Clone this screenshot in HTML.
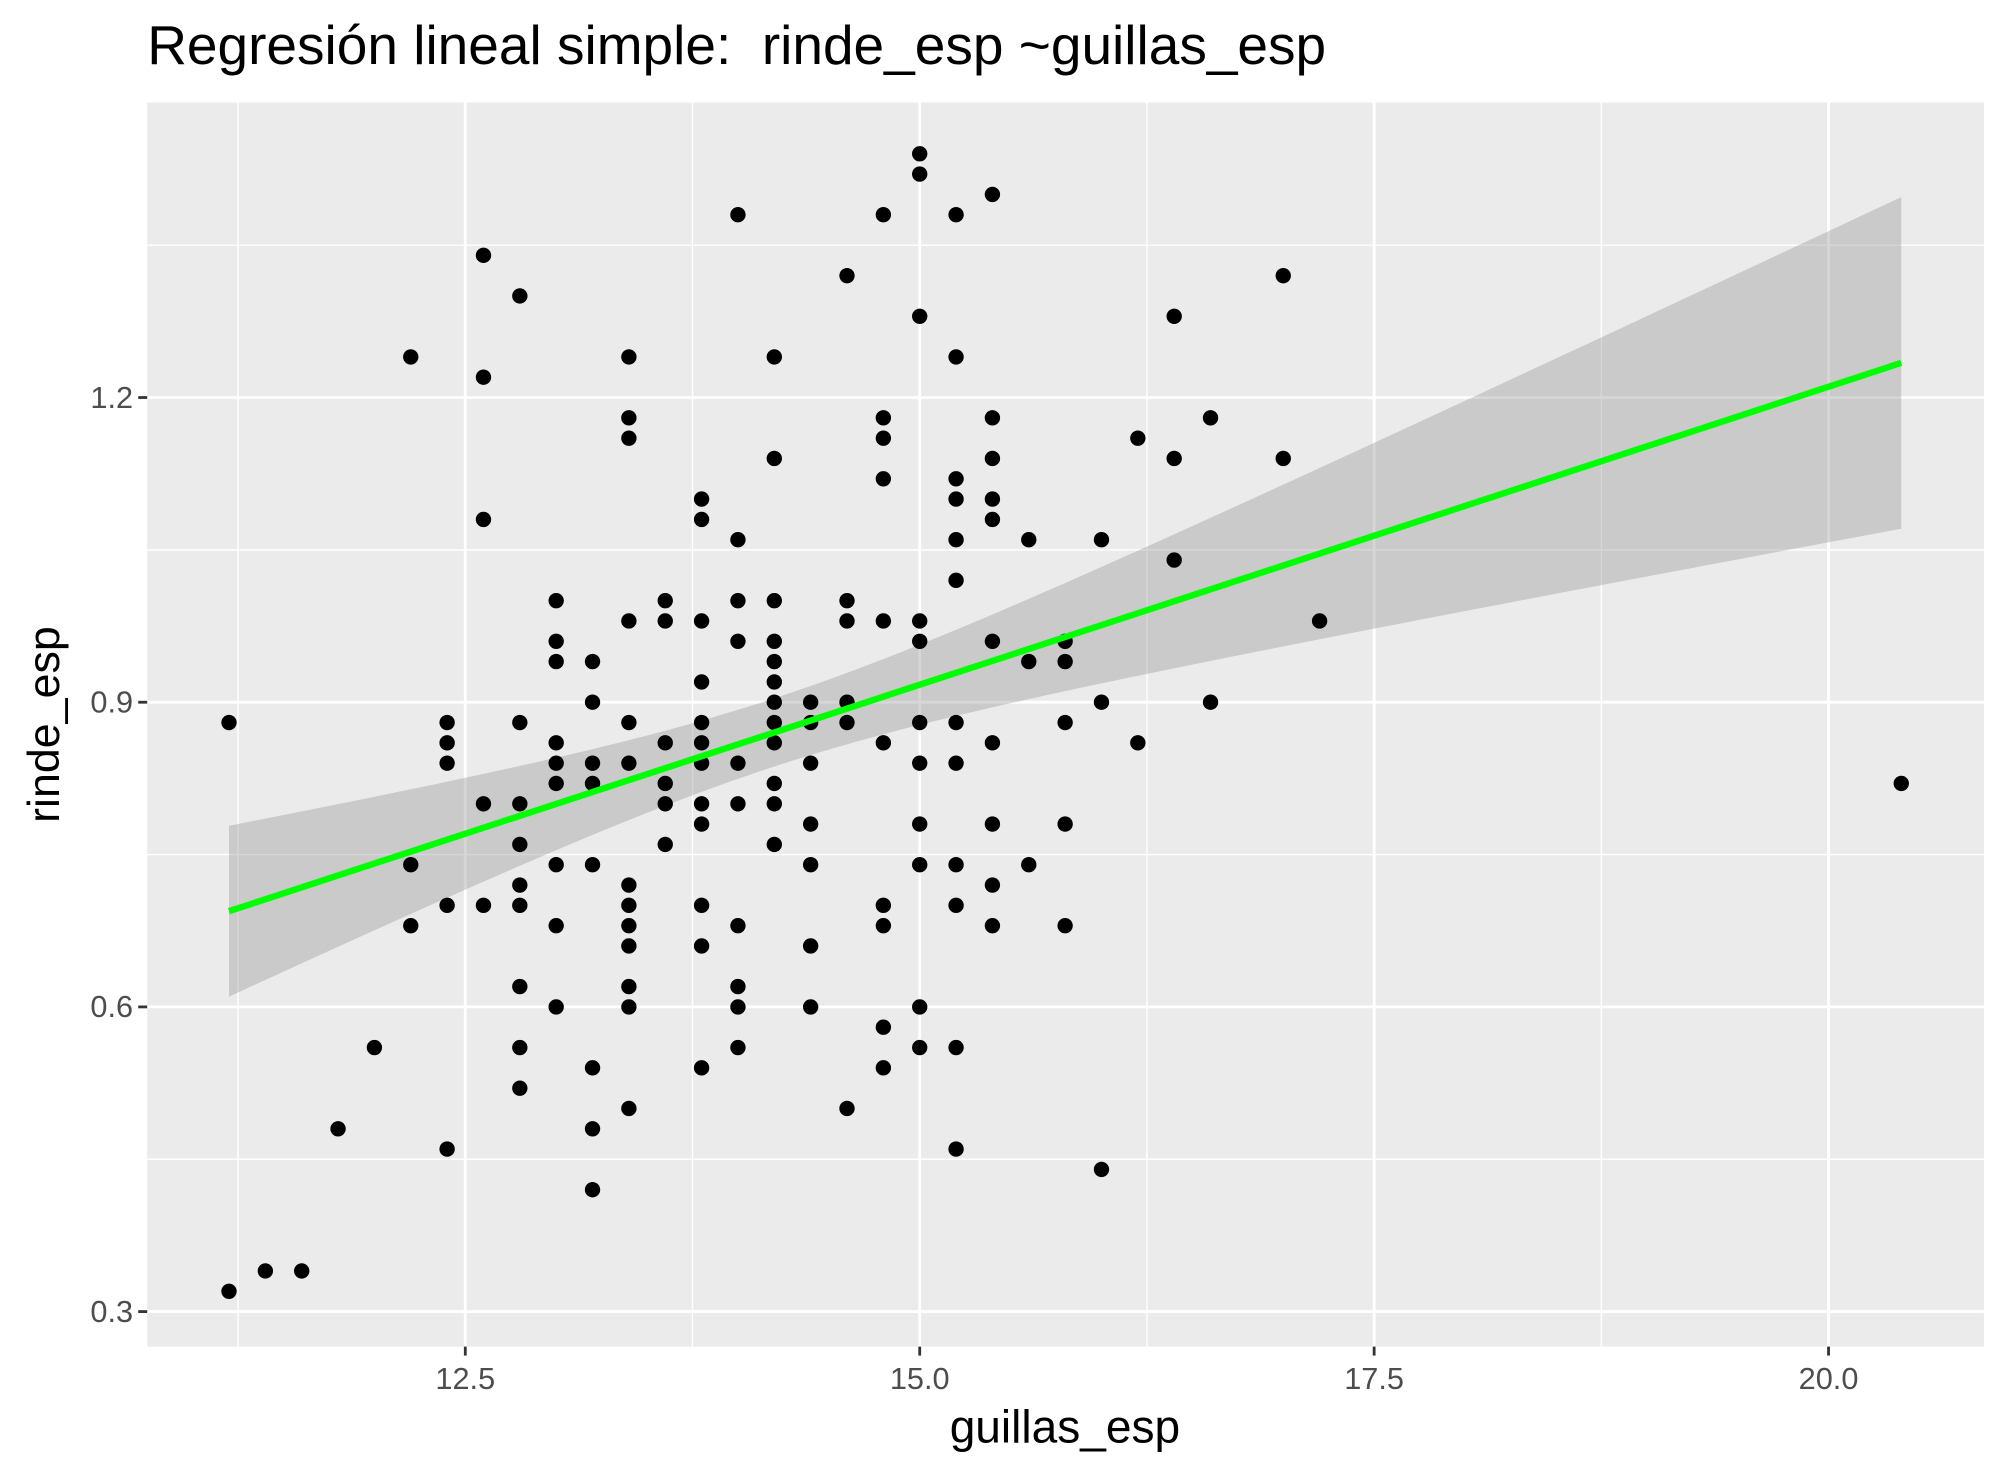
<!DOCTYPE html>
<html><head><meta charset="utf-8"><style>
html,body{margin:0;padding:0;background:#fff;}
svg{display:block;font-family:"Liberation Sans",Arial,sans-serif;}
</style></head><body>
<svg id="chart" width="2007" height="1476" viewBox="0 0 1568 1153" xmlns="http://www.w3.org/2000/svg">
<rect width="1568" height="1153" fill="#fff"/>
<text x="115" y="50" font-size="43" fill="#000">Regresión lineal simple:&#160; rinde_esp ~guillas_esp</text>
<rect x="115" y="80" width="1435" height="972" fill="#ebebeb"/>
<g id="grid"></g>
<g id="band"></g>
<g id="points"></g>
<g id="line"></g>
<g id="axes"></g>
<text x="832" y="1127" font-size="36" text-anchor="middle" fill="#000">guillas_esp</text>
<text transform="translate(46,566) rotate(-90)" font-size="35" text-anchor="middle" fill="#000">rinde_esp</text>
</svg>
<script>
const xTicks=[12.5,15.0,17.5,20.0];
const xTickLabels=["12.5","15.0","17.5","20.0"];
const xMinor=[11.25,13.75,16.25,18.75];
const yTicks=[0.3,0.6,0.9,1.2];
const yTickLabels=["0.3","0.6","0.9","1.2"];
const yMinor=[0.45,0.75,1.05,1.35];
const xGroups=[11.2,11.4,11.6,11.8,12.0,12.2,12.4,12.6,12.8,13.0,13.2,13.4,13.6,13.8,14.0,14.2,14.4,14.6,14.8,15.0,15.2,15.4,15.6,15.8,16.0,16.2,16.4,16.6,17.0,17.2,20.4];
const yGroups=[
[0.88,0.32],[0.34],[0.34],[0.48],[0.56],
[1.24,0.74,0.68],
[0.88,0.86,0.84,0.70,0.46],
[1.34,1.22,1.08,0.80,0.70],
[1.30,0.88,0.80,0.76,0.72,0.70,0.62,0.56,0.52],
[1.00,0.96,0.94,0.86,0.84,0.82,0.74,0.68,0.60],
[0.94,0.90,0.84,0.82,0.74,0.54,0.48,0.42],
[1.24,1.18,1.16,0.98,0.88,0.84,0.72,0.70,0.68,0.66,0.62,0.60,0.50],
[1.00,0.98,0.86,0.82,0.80,0.76],
[1.10,1.08,0.98,0.92,0.88,0.86,0.84,0.80,0.78,0.70,0.66,0.54],
[1.38,1.06,1.00,0.96,0.84,0.80,0.68,0.62,0.60,0.56],
[1.24,1.14,1.00,0.96,0.94,0.92,0.90,0.88,0.86,0.82,0.80,0.76],
[0.90,0.88,0.84,0.78,0.74,0.66,0.60],
[1.32,1.00,0.98,0.90,0.88,0.50],
[1.38,1.18,1.16,1.12,0.98,0.86,0.70,0.68,0.58,0.54],
[1.44,1.42,1.28,0.98,0.96,0.88,0.84,0.78,0.74,0.60,0.56],
[1.38,1.24,1.12,1.10,1.06,1.02,0.88,0.84,0.74,0.70,0.56,0.46],
[1.40,1.18,1.14,1.10,1.08,0.96,0.86,0.78,0.72,0.68],
[1.06,0.94,0.74],
[0.96,0.94,0.88,0.78,0.68],
[1.06,0.90,0.44],
[1.16,0.86],
[1.28,1.14,1.04],
[1.18,0.90],
[1.32,1.14],
[0.98],
[0.82]];
const NS="http://www.w3.org/2000/svg";
const X0=115,X1=1550,Y0=80,Y1=1052;
const xMin=10.75,xMax=20.855,yMin=0.2655,yMax=1.4905;
function sx(v){return X0+(v-xMin)/(xMax-xMin)*(X1-X0);}
function sy(v){return Y1-(v-yMin)/(yMax-yMin)*(Y1-Y0);}
function mk(tag,attrs,parent){const e=document.createElementNS(NS,tag);for(const k in attrs)e.setAttribute(k,attrs[k]);document.getElementById(parent).appendChild(e);return e;}
xMinor.forEach(v=>{const e=mk('line',{x1:sx(v),x2:sx(v),y1:Y0,y2:Y1,stroke:'#fff','stroke-width':1.1},'grid');

});
yMinor.forEach(v=>{const e=mk('line',{x1:X0,x2:X1,y1:sy(v),y2:sy(v),stroke:'#fff','stroke-width':1.1},'grid');

});
xTicks.forEach((v,i)=>{const e=mk('line',{x1:sx(v),x2:sx(v),y1:Y0,y2:Y1,stroke:'#fff','stroke-width':2.2},'grid');


const t=mk('line',{x1:sx(v),x2:sx(v),y1:Y1,y2:Y1+7,stroke:'#333','stroke-width':2.2},'axes');


const l=mk('text',{x:sx(v),y:Y1+33,'font-size':24,fill:'#4d4d4d','text-anchor':'middle'},'axes');l.textContent=xTickLabels[i];

});
yTicks.forEach((v,i)=>{const e=mk('line',{x1:X0,x2:X1,y1:sy(v),y2:sy(v),stroke:'#fff','stroke-width':2.2},'grid');


const t=mk('line',{x1:X0-7,x2:X0,y1:sy(v),y2:sy(v),stroke:'#333','stroke-width':2.2},'axes');


const l=mk('text',{x:X0-11,y:sy(v)+8,'font-size':24,fill:'#4d4d4d','text-anchor':'end'},'axes');l.textContent=yTickLabels[i];

});
const xs=[],ys=[];
xGroups.forEach((x,i)=>yGroups[i].forEach(y=>{xs.push(x);ys.push(y);}));
const n=xs.length;
const mx=xs.reduce((a,b)=>a+b,0)/n,my=ys.reduce((a,b)=>a+b,0)/n;
let sxx=0,sxy=0;for(let i=0;i<n;i++){sxx+=(xs[i]-mx)**2;sxy+=(xs[i]-mx)*(ys[i]-my);}
const b=sxy/sxx,a=my-b*mx;
let sse=0;for(let i=0;i<n;i++){sse+=(ys[i]-a-b*xs[i])**2;}
const s=Math.sqrt(sse/(n-2)),tq=1.97;
const lo=Math.min(...xs),hi=Math.max(...xs);
const up=[],dn=[];
for(let k=0;k<=80;k++){const x=lo+(hi-lo)*k/80;const f=a+b*x;const se=s*Math.sqrt(1/n+(x-mx)**2/sxx);
up.push(sx(x)+','+sy(f+tq*se));dn.unshift(sx(x)+','+sy(f-tq*se));}
const band=mk('polygon',{points:up.concat(dn).join(' '),fill:'#999','fill-opacity':0.4},'band');


for(let i=0;i<n;i++){const c=mk('circle',{cx:sx(xs[i]),cy:sy(ys[i]),r:6,fill:'#000'},'points');

}
const ln=mk('line',{x1:sx(lo),y1:sy(a+b*lo),x2:sx(hi),y2:sy(a+b*hi),stroke:'#00ff00','stroke-width':5},'line');


</script>
</body></html>
